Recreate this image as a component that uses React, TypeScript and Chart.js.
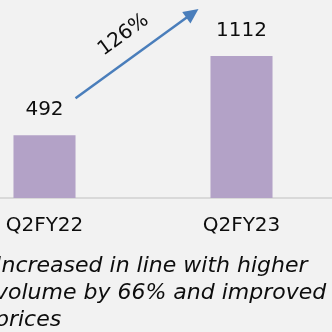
import React, { useEffect, useRef } from "react";
import { Chart, registerables } from "chart.js";

Chart.register(...registerables);

const categories = ["Q2FY22", "Q2FY23"];
const values = [492, 1112];
const growthLabel = "126%";
const noteLines = ["Increased in line with higher", "volume by 66% and improved", "prices"];

const FONT = "'DejaVu Sans', Verdana, sans-serif";

const annotPlugin = {
  id: "annot",
  afterDatasetsDraw(chart: any) {
    const ctx = chart.ctx;
    const meta = chart.getDatasetMeta(0);
    const b0 = meta.data[0];
    const b1 = meta.data[1];
    ctx.save();
    // value labels
    ctx.fillStyle = "#0d0d0d";
    ctx.font = `20px ${FONT}`;
    ctx.textAlign = "center";
    ctx.textBaseline = "middle";
    meta.data.forEach((b: any, i: number) => {
      ctx.fillText(String(values[i]), b.x, b.y - 25);
    });
    // arrow
    const sx = b0.x + b0.width / 2;
    const sy = b0.y - 37;
    const ex = b1.x - b1.width / 2 - 12;
    const ey = b1.y - 47;
    const ang = Math.atan2(ey - sy, ex - sx);
    const headLen = 15;
    const headW = 7;
    ctx.strokeStyle = "#4a7ebb";
    ctx.fillStyle = "#4a7ebb";
    ctx.lineWidth = 2.5;
    ctx.beginPath();
    ctx.moveTo(sx, sy);
    ctx.lineTo(ex - Math.cos(ang) * headLen * 0.8, ey - Math.sin(ang) * headLen * 0.8);
    ctx.stroke();
    ctx.beginPath();
    ctx.moveTo(ex, ey);
    const bx = ex - Math.cos(ang) * headLen;
    const by = ey - Math.sin(ang) * headLen;
    ctx.lineTo(bx + Math.sin(ang) * headW, by - Math.cos(ang) * headW);
    ctx.lineTo(bx - Math.sin(ang) * headW, by + Math.cos(ang) * headW);
    ctx.closePath();
    ctx.fill();
    // rotated growth label
    const mx = (sx + ex) / 2;
    const my = (sy + ey) / 2;
    const off = 23;
    const tx = mx + Math.sin(ang) * off;
    const ty = my - Math.cos(ang) * off;
    ctx.translate(tx, ty);
    ctx.rotate(ang);
    ctx.fillStyle = "#0d0d0d";
    ctx.font = `20px ${FONT}`;
    ctx.textAlign = "center";
    ctx.textBaseline = "middle";
    ctx.fillText(growthLabel, 0, 0);
    ctx.restore();
  },
};

export default function App() {
  const ref = useRef<HTMLCanvasElement>(null);
  useEffect(() => {
    if (!ref.current) return;
    const chart = new Chart(ref.current, {
      type: "bar",
      data: {
        labels: categories,
        datasets: [
          {
            data: values,
            backgroundColor: "#b3a2c7",
            borderWidth: 0,
            barPercentage: 0.63,
            categoryPercentage: 0.5,
          },
        ],
      },
      options: {
        responsive: false,
        animation: false,
        layout: { padding: 0 },
        plugins: { legend: { display: false }, tooltip: { enabled: false } },
        scales: {
          x: {
            grid: { display: false, drawTicks: false },
            border: { display: true, color: "#d9d9d9", width: 2 },
            ticks: { color: "#0d0d0d", font: { family: FONT, size: 20 }, padding: 16 },
          },
          y: { display: false, min: 0, max: 1550 },
        },
      },
      plugins: [annotPlugin],
    });
    return () => chart.destroy();
  }, []);
  return (
    <div
      style={{
        position: "fixed",
        left: 0,
        top: 0,
        width: 332,
        height: 332,
        overflow: "hidden",
        background: "#f2f2f2",
      }}
    >
      <canvas
        ref={ref}
        width={394}
        height={254}
        style={{ position: "absolute", left: -54, top: 0 }}
      />
      <div
        style={{
          position: "absolute",
          left: -5,
          top: 251,
          fontFamily: FONT,
          fontStyle: "italic",
          fontSize: 22,
          lineHeight: "27px",
          color: "#0d0d0d",
          whiteSpace: "nowrap",
        }}
      >
        {noteLines.map((l, i) => (
          <div key={i}>{l}</div>
        ))}
      </div>
    </div>
  );
}
